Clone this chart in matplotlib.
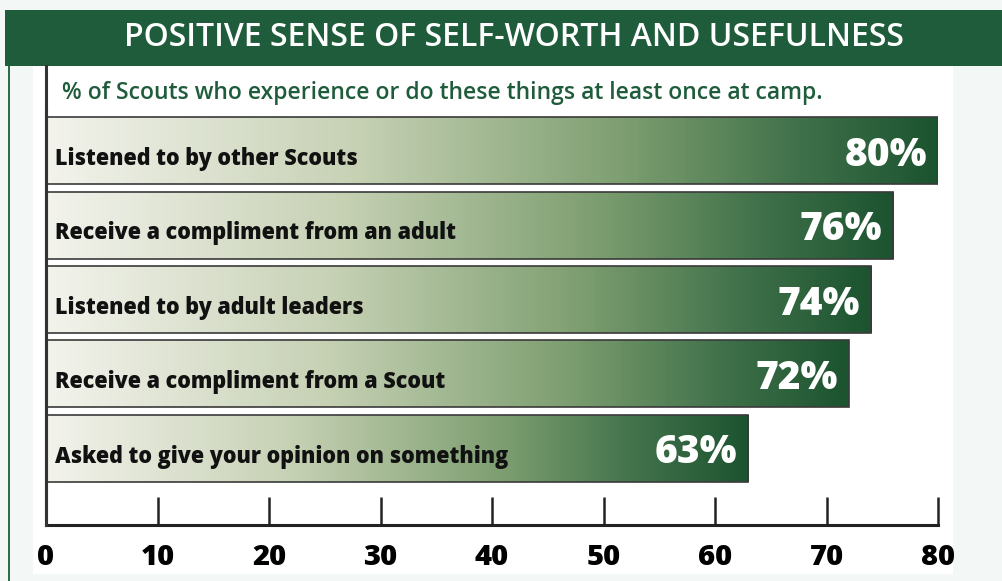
import numpy as np
import matplotlib
matplotlib.use("Agg")
import matplotlib.pyplot as plt
from matplotlib.colors import LinearSegmentedColormap
from matplotlib.patches import Rectangle

# ---- data ----
categories = [
    "Listened to by other Scouts",
    "Receive a compliment from an adult",
    "Listened to by adult leaders",
    "Receive a compliment from a Scout",
    "Asked to give your opinion on something",
]
values = [80, 76, 74, 72, 63]
value_labels = ["80%", "76%", "74%", "72%", "63%"]
xticks = [0, 10, 20, 30, 40, 50, 60, 70, 80]
title = "POSITIVE SENSE OF SELF-WORTH AND USEFULNESS"
subtitle = "% of Scouts who experience or do these things at least once at camp."

W, H = 1002, 581
fig = plt.figure(figsize=(W / 100, H / 100), dpi=100)
fig.patch.set_facecolor("#f3f8f7")

def fx(px):
    return px / W

def fy(py):
    return 1 - py / H

FAM = ["Open Sans", "DejaVu Sans"]

# green title banner
fig.patches.append(Rectangle((fx(5), fy(66)), fx(997), 56 / H, transform=fig.transFigure,
                             facecolor="#1f5c3b", edgecolor="none", zorder=-2))
# left green rule
fig.patches.append(Rectangle((fx(8), 0), fx(1.6), fy(66), transform=fig.transFigure,
                             facecolor="#2e6e46", edgecolor="none", zorder=-2))
# white panel
fig.patches.append(Rectangle((fx(33), fy(574)), fx(953 - 33), (574 - 66) / H, transform=fig.transFigure,
                             facecolor="white", edgecolor="none", zorder=-2))

fig.text(fx(514), fy(38), title, ha="center", va="center", color="white",
         fontsize=23, family=FAM, fontweight="semibold")
fig.text(fx(62), fy(93), subtitle, ha="left", va="center", color="#1f5c3b",
         fontsize=16.5, family=FAM, fontweight="semibold")

# axes: x 0->80 maps to px 46->938, bottom spine at px 525
ax = fig.add_axes([fx(46), fy(525), fx(938 - 46), (525 - 108) / H])
ax.set_zorder(5)
ax.patch.set_alpha(0)

cmap = LinearSegmentedColormap.from_list(
    "g", [(0, "#f3f3ec"), (0.35, "#c6d1b4"), (0.65, "#7d9e70"), (0.85, "#3f7049"), (1, "#1c5430")])
grad = np.linspace(0, 1, 256).reshape(1, -1)

n = len(categories)
bh = 0.9
for i, (cat, v, lab) in enumerate(zip(categories, values, value_labels)):
    y = n - i
    im = ax.imshow(grad, cmap=cmap, aspect="auto", extent=(0, v, y - bh / 2, y + bh / 2),
                   zorder=2, interpolation="bilinear")
    rect = Rectangle((0, y - bh / 2), v, bh, facecolor="none", edgecolor="#3a3a3a",
                     linewidth=1.2, zorder=3)
    ax.add_patch(rect)
    im.set_clip_path(rect)
    ax.text(0.8, y - 0.11, cat, ha="left", va="center", fontsize=15.5, fontweight="heavy",
            color="#111111", family=FAM, zorder=4)
    ax.text(v - 1.0, y - 0.06, lab, ha="right", va="center", fontsize=28, fontweight="heavy",
            color="white", family=FAM, zorder=4)

ax.set_xlim(0, 80)
ax.set_ylim(-0.03, (525 - 108) / 74.4 - 0.03)
for s in ["top", "right"]:
    ax.spines[s].set_visible(False)
ax.spines["bottom"].set_linewidth(2.2)
ax.spines["left"].set_linewidth(2.2)
ax.spines["bottom"].set_color("#222222")
ax.spines["left"].set_color("#333333")
ax.set_yticks([])
ax.set_xticks(xticks)
ax.tick_params(axis="x", direction="in", length=20, width=1.8, color="#222222",
               pad=13, labelsize=21)
ax.set_xticklabels([str(t) for t in xticks], fontweight="heavy", family=FAM)

# extend left spine up to panel top
fig.lines.append(plt.Line2D([fx(46), fx(46)], [fy(525), fy(66)], transform=fig.transFigure,
                            color="#333333", linewidth=2.2, zorder=6))

fig.savefig("out.png", dpi=100, facecolor=fig.get_facecolor())
